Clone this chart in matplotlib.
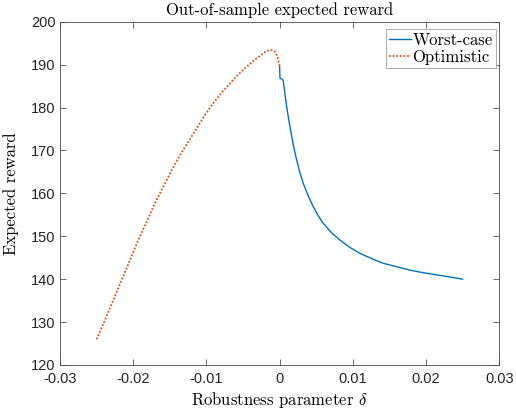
import matplotlib
matplotlib.use("Agg")
import matplotlib.pyplot as plt

# Data
delta_worst = [0.0, 0.00002, 0.00005, 0.0002, 0.00036, 0.00049, 0.00072, 0.00096, 0.00117,
               0.00141, 0.00186, 0.00232, 0.00277, 0.00323, 0.00391, 0.00459, 0.00527,
               0.00596, 0.0071, 0.00824, 0.0096, 0.01097, 0.01257, 0.01415, 0.01598,
               0.0178, 0.01962, 0.02145, 0.02327, 0.0250]
reward_worst = [189.5, 188.0, 186.8, 186.7, 186.6, 186.2, 183.3, 180.2, 177.9,
                175.5, 171.3, 167.8, 164.8, 162.3, 159.4, 156.9, 154.8,
                153.0, 150.8, 149.1, 147.4, 146.0, 144.8, 143.7, 142.9,
                142.1, 141.5, 141.0, 140.5, 140.0]

delta_opt = [-0.0250, -0.02386, -0.02273, -0.02158, -0.02045, -0.01931, -0.01817, -0.01704,
             -0.0159, -0.01475, -0.01362, -0.01249, -0.01134, -0.0102, -0.00907, -0.00792,
             -0.00679, -0.00566, -0.00451, -0.00337, -0.00224, -0.00178, -0.00109, -0.00064,
             -0.0004, -0.00019, 0.0]
reward_opt = [126.0, 130.5, 135.1, 139.8, 144.4, 149.1, 153.4, 157.7,
              161.5, 165.4, 168.9, 172.0, 175.1, 178.3, 181.0, 183.5,
              185.6, 187.7, 189.5, 191.2, 192.6, 193.2, 193.4, 193.0,
              192.2, 191.1, 189.5]

xticks = [-0.03, -0.02, -0.01, 0, 0.01, 0.02, 0.03]
xticklabels = ["-0.03", "-0.02", "-0.01", "0", "0.01", "0.02", "0.03"]
yticks = [120, 130, 140, 150, 160, 170, 180, 190, 200]

plt.rcParams['mathtext.fontset'] = 'cm'
serif = 'cmr10'
tickfont = 'Liberation Sans'

fig = plt.figure(figsize=(5.16, 4.12), dpi=100)
ax = fig.add_axes([0.1163, 0.1141, 0.8513, 0.8332])

ax.plot(delta_worst, reward_worst, color='#0072BD', lw=1.0, label='Worst-case')
ax.plot(delta_opt, reward_opt, color='#D95319', lw=1.3, ls=(0, (1, 1)), label='Optimistic')

ax.set_xlim(-0.03, 0.03)
ax.set_ylim(120, 200)
ax.set_xticks(xticks)
ax.set_xticklabels(xticklabels)
ax.set_yticks(yticks)
for lab in ax.get_xticklabels() + ax.get_yticklabels():
    lab.set_fontfamily(tickfont)
    lab.set_fontsize(10.5)
    lab.set_color('#262626')

ax.tick_params(direction='in', length=4, width=0.6, color='#4d4d4d',
               top=True, right=True)
ax.tick_params(axis='x', pad=5)
ax.tick_params(axis='y', pad=3)
for s in ax.spines.values():
    s.set_color('#4d4d4d')
    s.set_linewidth(0.6)

ax.set_title('Out-of-sample expected reward', fontfamily=serif, fontsize=12, pad=5)
ax.set_ylabel('Expected reward', fontfamily=serif, fontsize=12, labelpad=9)
ax.set_xlabel(r'Robustness parameter $\delta$', fontfamily=serif, fontsize=12, labelpad=3)

leg = ax.legend(loc='upper right', bbox_to_anchor=(1.0, 0.988), borderaxespad=0.2,
                prop={'family': serif, 'size': 12}, handlelength=1.3, handletextpad=0.1,
                borderpad=0.2, labelspacing=0.1, fancybox=False, framealpha=1)
leg.get_frame().set_edgecolor('#a0a0a0')
leg.get_frame().set_linewidth(0.6)

fig.savefig('out.png', dpi=100)
